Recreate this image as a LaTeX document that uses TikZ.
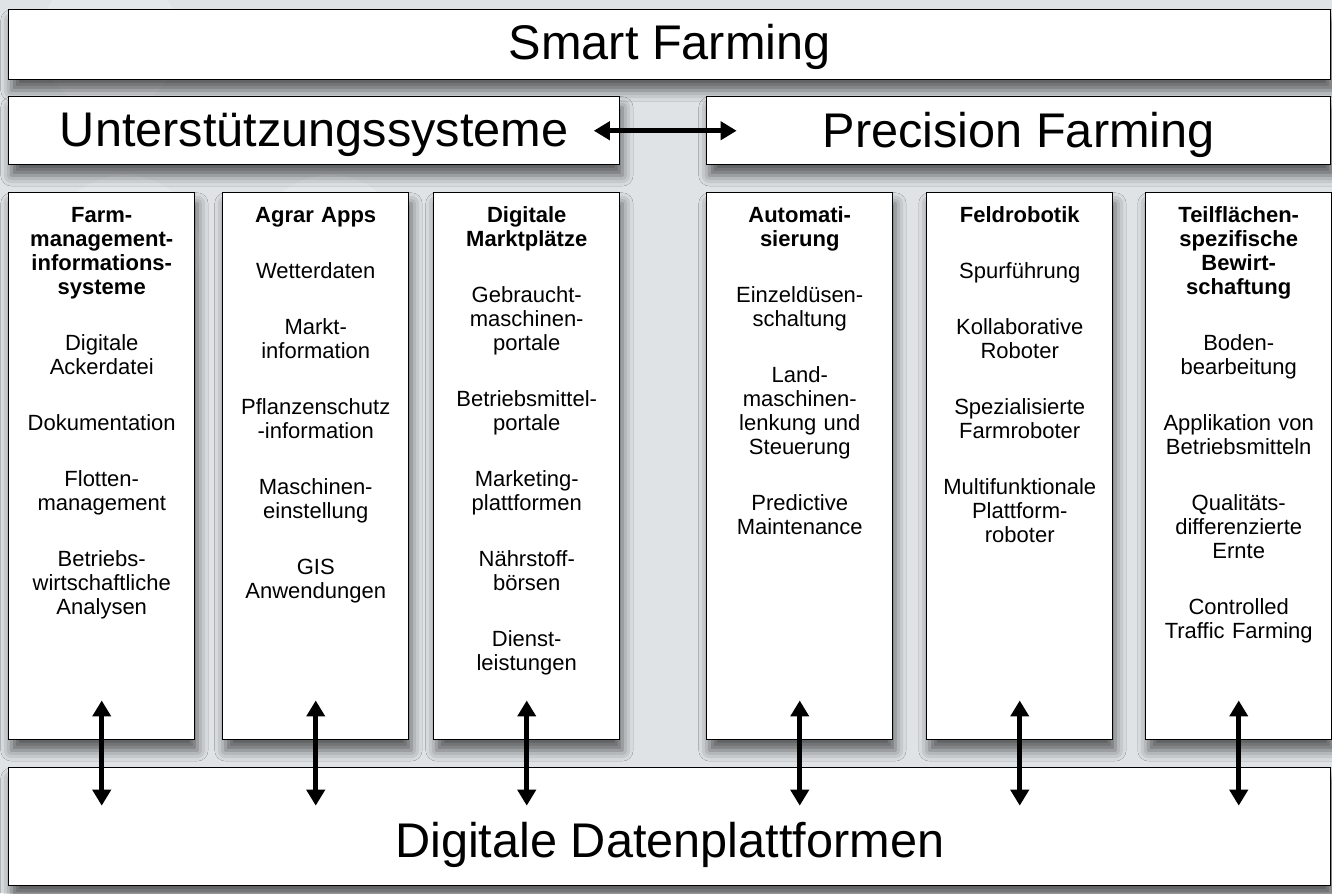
\documentclass[tikz,border=0pt]{standalone}
\usepackage{fontspec}
\setmainfont{Liberation Sans}
\usetikzlibrary{arrows.meta,shadows.blur}

\definecolor{bggrey}{RGB}{223,227,230}

\tikzset{
  box/.style={draw=black, line width=1.1pt, fill=white, inner sep=0pt, anchor=north west,
    blur shadow={shadow xshift=2pt, shadow yshift=-8pt, shadow blur radius=8pt, shadow opacity=60}},
  bigtext/.style={font=\fontsize{36.5}{40}\selectfont},
  coltext/.style={anchor=north, inner sep=0pt, align=center, text width=130pt,
    font=\fontsize{16.5}{18}\selectfont},
  dblarrow/.style={line width=3.6pt, {Triangle[width=13.5pt,length=12pt]}-{Triangle[width=13.5pt,length=12pt]}},
}

\begin{document}
\begin{tikzpicture}[x=0.75pt,y=-0.75pt]
% background and picture size
\fill[bggrey] (0,0) rectangle (1332,893);
\useasboundingbox (0,0) rectangle (1332,893);
\fill[white, opacity=0.18] (110,40) circle (70) (125,250) circle (75) (330,250) circle (75);

% top rows
\node[box, minimum width=991.5pt, minimum height=52.5pt] (smart) at (8,9) {};
\node[bigtext] at ([yshift=-2pt]smart.center) {Smart Farming};
\node[box, minimum width=458.25pt, minimum height=51pt] (support) at (8,96) {};
\node[bigtext] at ([yshift=-3pt]support.center) {Unterstützungssysteme};
\node[box, minimum width=468pt, minimum height=51pt] (precision) at (706,96) {};
\node[bigtext] at ([yshift=-3pt]precision.center) {Precision Farming};

% bottom platform
\node[box, minimum width=991.5pt, minimum height=88.5pt] (data) at (8,767) {};
\node[bigtext] at ([yshift=-14pt]data.center) {Digitale Datenplattformen};

% columns
\foreach \name/\x in {col1/8, col2/222, col3/433, col4/706, col5/926, col6/1145}
  \node[box, minimum width=139.5pt, minimum height=410.25pt] (\name) at (\x,192) {};

\node[coltext] (t1) at ([yshift=-11pt]col1.north) {\textbf{Farm-\\management-\\informations-\\systeme}\\[24pt]
  Digitale\\Ackerdatei\\[24pt]Dokumentation\\[24pt]Flotten-\\management\\[24pt]
  Betriebs-\\wirtschaftliche\\Analysen};
\node[coltext] (t2) at ([yshift=-11pt]col2.north) {\textbf{Agrar Apps}\\[24pt]
  Wetterdaten\\[24pt]Markt-\\information\\[24pt]Pflanzenschutz\\-information\\[24pt]
  Maschinen-\\einstellung\\[24pt]GIS\\Anwendungen};
\node[coltext] (t3) at ([yshift=-11pt]col3.north) {\textbf{Digitale\\Marktplätze}\\[24pt]
  Gebraucht-\\maschinen-\\portale\\[24pt]Betriebsmittel-\\portale\\[24pt]
  Marketing-\\plattformen\\[24pt]Nährstoff-\\börsen\\[24pt]Dienst-\\leistungen};
\node[coltext] (t4) at ([yshift=-11pt]col4.north) {\textbf{Automati-\\sierung}\\[24pt]
  Einzeldüsen-\\schaltung\\[24pt]Land-\\maschinen-\\lenkung und\\Steuerung\\[24pt]
  Predictive\\Maintenance};
\node[coltext] (t5) at ([yshift=-11pt]col5.north) {\textbf{Feldrobotik}\\[24pt]
  Spurführung\\[24pt]Kollaborative\\Roboter\\[24pt]Spezialisierte\\Farmroboter\\[24pt]
  Multifunktionale\\Plattform-\\roboter};
\node[coltext] (t6) at ([yshift=-11pt]col6.north) {\textbf{Teilflächen-\\spezifische\\Bewirt-\\schaftung}\\[24pt]
  Boden-\\bearbeitung\\[24pt]Applikation von\\Betriebsmitteln\\[24pt]
  Qualitäts-\\differenzierte\\Ernte\\[24pt]Controlled\\Traffic Farming};

% arrows
\draw[dblarrow] ([xshift=-20pt]support.east) -- ([xshift=23pt]precision.west);
\foreach \name in {col1,col2,col3,col4,col5,col6}
  \draw[dblarrow] ([yshift=30pt]\name.south) -- ([yshift=-29pt]\name.south |- data.north);
\end{tikzpicture}
\end{document}
